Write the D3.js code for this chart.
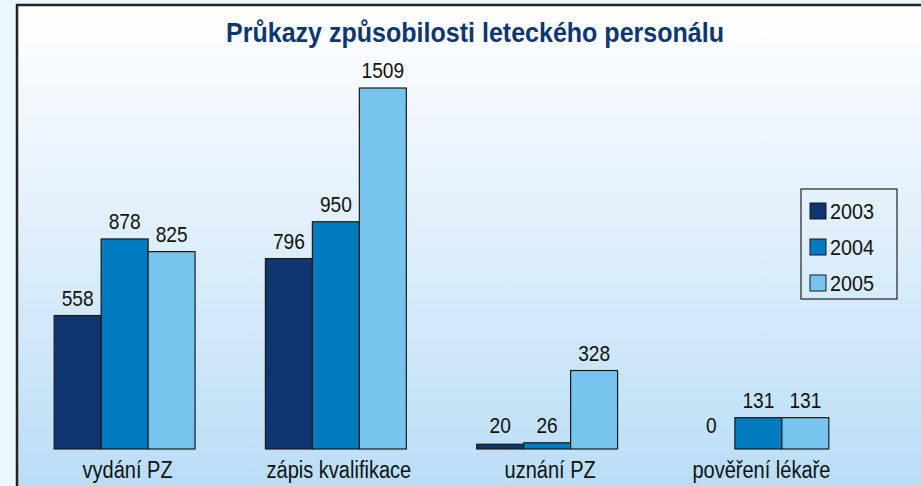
<!DOCTYPE html>
<html>
<head>
<meta charset="utf-8">
<title>Průkazy způsobilosti leteckého personálu</title>
<style>
body { margin: 0; background: #eef7fd; }
svg { display: block; }
text { font-family: "Liberation Sans", Arial, sans-serif; }
</style>
<script src="https://d3js.org/d3.v7.min.js"></script>
</head>
<body>
<svg id="chart" width="921" height="486"></svg>
<script>
// data
const categories = ["vydání PZ", "zápis kvalifikace", "uznání PZ", "pověření lékaře"];
const years = ["2003", "2004", "2005"];
const v2003 = [558, 796, 20, 0];
const v2004 = [878, 950, 26, 131];
const v2005 = [825, 1509, 328, 131];
const title = "Průkazy způsobilosti leteckého personálu";

const colors = {"2003": "#0f3671", "2004": "#007bc0", "2005": "#77c4ee"};
const series = {"2003": v2003, "2004": v2004, "2005": v2005};

const svg = d3.select("#chart");
const W = +svg.attr("width");
const H = +svg.attr("height");
const FRAME_X = 17, FRAME_Y = 5;
const BASE = 449, TOP = 88;
const NARROW = 0.87;   // fake a condensed face

// background + frame
const defs = svg.append("defs");
const grad = defs.append("linearGradient").attr("id", "bg")
    .attr("x1", 0).attr("y1", 0).attr("x2", 0).attr("y2", 1);
grad.append("stop").attr("offset", "0%").attr("stop-color", "#ffffff");
grad.append("stop").attr("offset", "45%").attr("stop-color", "#e1f0fb");
grad.append("stop").attr("offset", "100%").attr("stop-color", "#b9ddf6");

svg.append("rect").attr("x", 0).attr("y", 0).attr("width", W).attr("height", H)
    .style("fill", "#ecf6fd");
svg.append("rect").attr("x", FRAME_X).attr("y", FRAME_Y)
    .attr("width", W - FRAME_X + 5).attr("height", H - FRAME_Y + 5)
    .style("fill", "url(#bg)")
    .style("stroke", "#262222").style("stroke-width", 2.5);

svg.append("text")
    .attr("x", 226).attr("y", 42)
    .attr("textLength", 498).attr("lengthAdjust", "spacingAndGlyphs")
    .style("font-size", "28px").style("font-weight", "bold")
    .style("fill", "#0f3671")
    .text(title);

// scales
const x0 = d3.scaleBand().domain(categories).range([19, 864])
    .paddingInner(0.333).paddingOuter(0.1665);
const x1 = d3.scaleBand().domain(years).range([0, x0.bandwidth()]);
const y = d3.scaleLinear().domain([0, d3.max(v2005)]).range([BASE, TOP]);

const rows = categories.map((c, i) => ({
    cat: c,
    vals: years.map(yr => ({year: yr, value: series[yr][i]}))
}));

const groups = svg.append("g").selectAll("g").data(rows).join("g")
    .attr("transform", d => `translate(${x0(d.cat)},0)`);

groups.selectAll("rect").data(d => d.vals.filter(v => v.value > 0)).join("rect")
    .attr("x", d => x1(d.year))
    .attr("y", d => y(d.value))
    .attr("width", x1.bandwidth())
    .attr("height", d => y(0) - y(d.value))
    .style("fill", d => colors[d.year])
    .style("stroke", "#1b1b1b")
    .style("stroke-width", 1.2);

groups.selectAll("text.val").data(d => d.vals).join("text")
    .attr("class", "val")
    .attr("transform", d => `translate(${x1(d.year) + x1.bandwidth() / 2},${Math.min(y(d.value) - 10, y(0) - 16)}) scale(${NARROW},1)`)
    .attr("text-anchor", "middle")
    .style("font-size", "22px")
    .style("fill", "#111")
    .text(d => d.value);

// category labels
const xAxis = d3.axisBottom(x0).tickSize(0).tickPadding(0);
const ax = svg.append("g").attr("transform", `translate(0,${BASE})`).call(xAxis);
ax.select(".domain").remove();
ax.selectAll("text")
    .attr("y", 0).attr("dy", null)
    .attr("transform", `translate(3,29) scale(${NARROW},1)`)
    .style("font-size", "23px")
    .style("font-family", "\"Liberation Sans\", Arial, sans-serif")
    .style("fill", "#111");

// legend
const legend = svg.append("g");
legend.append("rect").attr("x", 801).attr("y", 189).attr("width", 96).attr("height", 110)
    .style("fill", "none").style("stroke", "#222").style("stroke-width", 1.2);
years.forEach((yr, i) => {
    legend.append("rect").attr("x", 810).attr("y", 203 + i * 36).attr("width", 16).attr("height", 16)
        .style("fill", colors[yr]).style("stroke", "#1b1b1b").style("stroke-width", 1);
    legend.append("text")
        .attr("transform", `translate(830,${219 + i * 36}) scale(0.9,1)`)
        .style("font-size", "22px").style("fill", "#111").text(yr);
});
</script>
</body>
</html>
